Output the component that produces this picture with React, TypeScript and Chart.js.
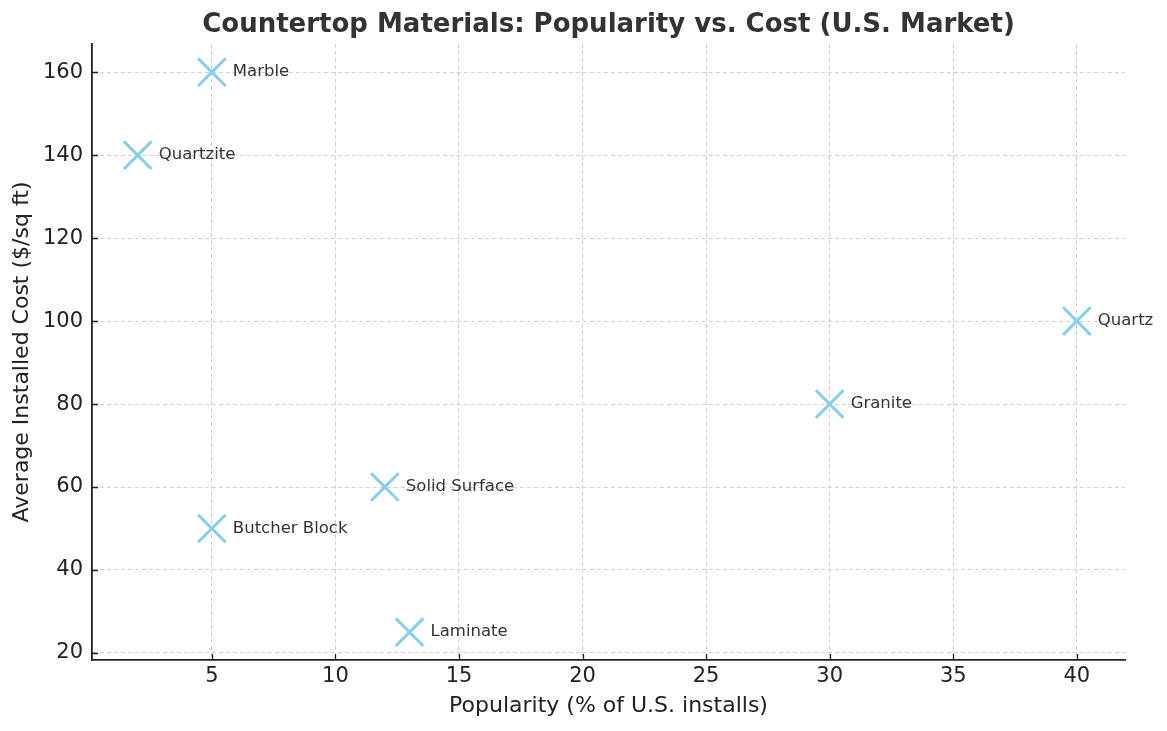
import React, { useEffect, useRef } from "react";
import { Chart, registerables } from "chart.js";

Chart.register(...registerables);

const titleText = "Countertop Materials: Popularity vs. Cost (U.S. Market)";
const materials = ["Quartz", "Granite", "Laminate", "Marble", "Quartzite", "Solid Surface", "Butcher Block"];
const popularity = [40, 30, 13, 5, 2, 12, 5];
const cost = [100, 80, 25, 160, 140, 60, 50];
const xTicks = [5, 10, 15, 20, 25, 30, 35, 40];
const yTicks = [20, 40, 60, 80, 100, 120, 140, 160];

const FONT = "'DejaVu Sans', sans-serif";

const inwardTicks = {
  id: "inwardTicks",
  afterDraw(chart: any) {
    const ctx = chart.ctx;
    const xs = chart.scales.x;
    const ys = chart.scales.y;
    const area = chart.chartArea;
    ctx.save();
    ctx.strokeStyle = "#222";
    ctx.lineWidth = 1.3;
    ctx.setLineDash([]);
    ctx.beginPath();
    xTicks.forEach((v) => {
      const px = Math.round(xs.getPixelForValue(v)) + 0.5;
      ctx.moveTo(px, area.bottom);
      ctx.lineTo(px, area.bottom - 6);
    });
    yTicks.forEach((v) => {
      const py = Math.round(ys.getPixelForValue(v)) + 0.5;
      ctx.moveTo(area.left, py);
      ctx.lineTo(area.left + 6, py);
    });
    ctx.stroke();
    ctx.restore();
  },
};

const chartTitle = {
  id: "chartTitle",
  afterDraw(chart: any) {
    const ctx = chart.ctx;
    const area = chart.chartArea;
    ctx.save();
    ctx.font = `bold 26px ${FONT}`;
    ctx.fillStyle = "#333";
    ctx.textAlign = "center";
    ctx.textBaseline = "middle";
    ctx.fillText(titleText, (area.left + area.right) / 2, 25);
    ctx.restore();
  },
};

const pointLabels = {
  id: "pointLabels",
  afterDatasetsDraw(chart: any) {
    const ctx = chart.ctx;
    const meta = chart.getDatasetMeta(0);
    ctx.save();
    ctx.font = `16.5px ${FONT}`;
    ctx.fillStyle = "#333";
    ctx.textAlign = "left";
    ctx.textBaseline = "middle";
    meta.data.forEach((pt: any, i: number) => {
      ctx.fillText(materials[i], pt.x + 21, pt.y);
    });
    ctx.restore();
  },
};

export default function App() {
  const ref = useRef<HTMLCanvasElement | null>(null);
  useEffect(() => {
    if (!ref.current) return;
    const chart = new Chart(ref.current, {
      type: "scatter",
      data: {
        datasets: [
          {
            data: popularity.map((x, i) => ({ x, y: cost[i] })),
            pointStyle: "crossRot",
            pointRadius: 19.5,
            pointHoverRadius: 19.5,
            borderColor: "#87CEEB",
            backgroundColor: "#87CEEB",
            pointBorderWidth: 3,
            clip: false,
          } as any,
        ],
      },
      options: {
        animation: false,
        responsive: false,
        layout: { padding: { left: 0, right: 42, top: 44, bottom: 0 } },
        plugins: {
          legend: { display: false },
          tooltip: { enabled: false },
          title: { display: false },
        },
        scales: {
          x: {
            type: "linear",
            min: 0.15,
            max: 41.95,
            afterBuildTicks: (s: any) => {
              s.ticks = xTicks.map((v) => ({ value: v }));
            },
            afterFit: (s: any) => {
              s.height = 71;
            },
            ticks: {
              color: "#222",
              font: { family: FONT, size: 21 },
              padding: 4,
              maxRotation: 0,
            },
            grid: {
              color: "#d0d0d0",
              lineWidth: 1,
              drawTicks: false,
            },
            border: { display: true, color: "#222", width: 1.8, dash: [4, 3] },
            title: {
              display: true,
              text: "Popularity (% of U.S. installs)",
              color: "#222",
              font: { family: FONT, size: 22 },
              padding: { top: 0, bottom: 12 },
            },
          },
          y: {
            type: "linear",
            min: 18.3,
            max: 166.8,
            afterBuildTicks: (s: any) => {
              s.ticks = yTicks.map((v) => ({ value: v }));
            },
            afterFit: (s: any) => {
              s.width = 92;
            },
            ticks: {
              color: "#222",
              font: { family: FONT, size: 21 },
              padding: 9,
            },
            grid: {
              color: "#d0d0d0",
              lineWidth: 1,
              drawTicks: false,
            },
            border: { display: true, color: "#222", width: 1.8, dash: [4, 3] },
            title: {
              display: true,
              text: "Average Installed Cost ($/sq ft)",
              color: "#222",
              font: { family: FONT, size: 22 },
              padding: { top: 9, bottom: 0 },
            },
          },
        },
      },
      plugins: [inwardTicks, pointLabels, chartTitle],
    } as any);
    return () => chart.destroy();
  }, []);
  return (
    <div style={{ position: "absolute", left: 0, top: 0, width: 1167, height: 731, background: "#fff" }}>
      <canvas ref={ref} width={1167} height={731} style={{ display: "block" }} />
    </div>
  );
}
